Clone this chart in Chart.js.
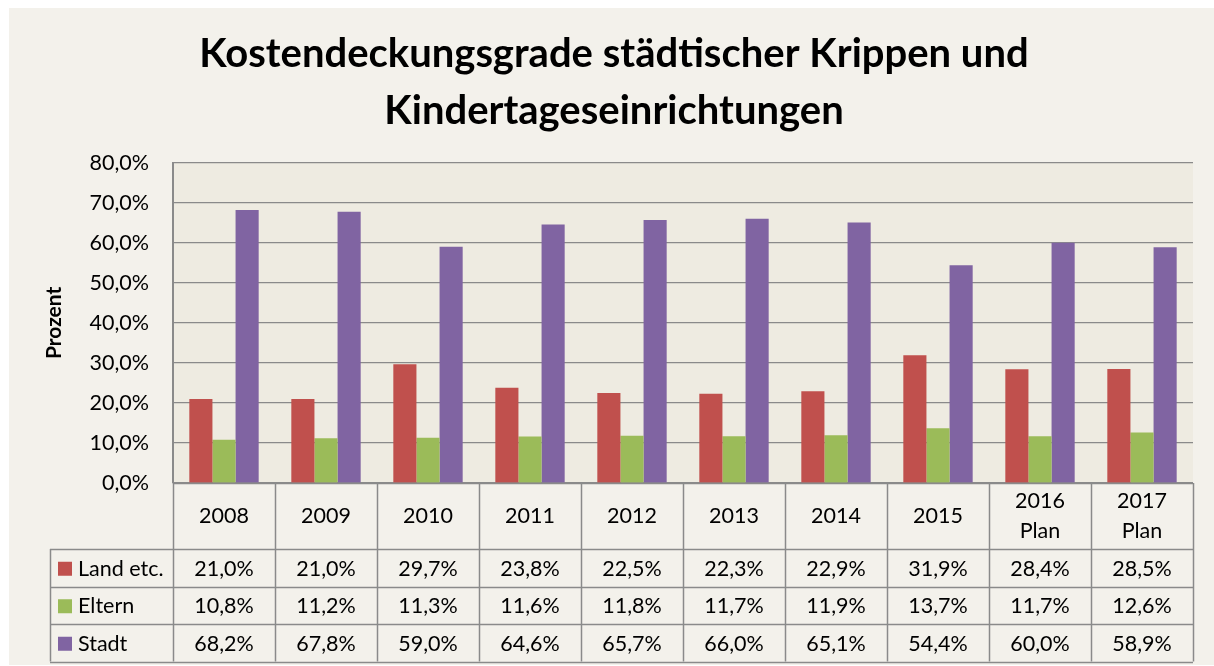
<!DOCTYPE html>
<html>
<head>
<meta charset="utf-8">
<script src="https://cdn.jsdelivr.net/npm/chart.js@4"></script>
<style>
  html, body { margin: 0; padding: 0; background: #ffffff; }
  canvas { display: block; }
</style>
</head>
<body>
<canvas id="chart" width="1214" height="666"></canvas>
<script>
const categories = [['2008'], ['2009'], ['2010'], ['2011'], ['2012'], ['2013'], ['2014'], ['2015'], ['2016', 'Plan'], ['2017', 'Plan']];
const seriesNames = ['Land etc.', 'Eltern', 'Stadt'];
const land = [21.0, 21.0, 29.7, 23.8, 22.5, 22.3, 22.9, 31.9, 28.4, 28.5];
const eltern = [10.8, 11.2, 11.3, 11.6, 11.8, 11.7, 11.9, 13.7, 11.7, 12.6];
const stadt = [68.2, 67.8, 59.0, 64.6, 65.7, 66.0, 65.1, 54.4, 60.0, 58.9];
const yTicks = [0, 10, 20, 30, 40, 50, 60, 70, 80];

const colors = ['#c0504d', '#9bbb59', '#8064a2'];
const FONT = 'Lato, "Open Sans", sans-serif';
const LINE = '#8a8a8a';
const TEXT_SIZE = 21.5;

function pct(v) {
    return v.toFixed(1).replace('.', ',') + '%';
}

// outer background + plot background
const backgroundPlugin = {
    id: 'background',
    beforeDraw(chart) {
        const ctx = chart.ctx;
        const a = chart.chartArea;
        ctx.save();
        ctx.fillStyle = '#ffffff';
        ctx.fillRect(0, 0, chart.width, chart.height);
        ctx.fillStyle = '#f3f1eb';
        ctx.fillRect(9, 8, chart.width - 9, chart.height - 9);
        ctx.fillStyle = '#eeebe1';
        ctx.fillRect(a.left, a.top, a.right - a.left, a.bottom - a.top);
        ctx.restore();
    }
};

// data table under the plot, columns taken from the x scale
const tablePlugin = {
    id: 'dataTable',
    afterDraw(chart) {
        const ctx = chart.ctx;
        const x = chart.scales.x;
        const n = categories.length;
        const colW = (x.right - x.left) / n;
        const top = chart.chartArea.bottom;
        const headerBottom = top + 66;
        const rowH = 37.5;
        const bottom = headerBottom + rowH * 3;
        const legendLeft = 50;

        ctx.save();
        ctx.strokeStyle = LINE;
        ctx.lineWidth = 1.5;

        // vertical lines
        for (let i = 0; i <= n; i++) {
            const px = Math.round(x.left + colW * i) + 0.5;
            ctx.beginPath();
            ctx.moveTo(px, top);
            ctx.lineTo(px, bottom);
            ctx.stroke();
        }
        ctx.beginPath();
        ctx.moveTo(legendLeft + 0.5, headerBottom);
        ctx.lineTo(legendLeft + 0.5, bottom);
        ctx.stroke();

        // horizontal lines
        for (let r = 0; r <= 3; r++) {
            const py = Math.round(headerBottom + rowH * r) + 0.5;
            ctx.beginPath();
            ctx.moveTo(legendLeft, py);
            ctx.lineTo(x.right, py);
            ctx.stroke();
        }
        ctx.beginPath();
        ctx.moveTo(x.left, top + 0.5);
        ctx.lineTo(x.right, top + 0.5);
        ctx.stroke();

        ctx.fillStyle = '#000000';
        ctx.font = TEXT_SIZE + 'px ' + FONT;
        ctx.textAlign = 'center';
        ctx.textBaseline = 'middle';

        // header labels
        categories.forEach((lines, i) => {
            const cx = x.getPixelForValue(i);
            const mid = (top + headerBottom) / 2;
            const lh = 30;
            lines.forEach((t, j) => {
                ctx.fillText(t, cx, mid + (j - (lines.length - 1) / 2) * lh);
            });
        });

        // rows
        chart.data.datasets.forEach((ds, r) => {
            const cy = headerBottom + rowH * r + rowH / 2 + 1;
            ctx.fillStyle = ds.backgroundColor;
            ctx.fillRect(legendLeft + 8, cy - 7, 14, 14);
            ctx.fillStyle = '#000000';
            ctx.textAlign = 'left';
            ctx.fillText(ds.label, legendLeft + 28, cy);
            ctx.textAlign = 'center';
            ds.data.forEach((v, i) => {
                ctx.fillText(pct(v), x.getPixelForValue(i), cy);
            });
        });
        ctx.restore();
    }
};

new Chart(document.getElementById('chart'), {
    type: 'bar',
    data: {
        labels: categories,
        datasets: [
            { label: seriesNames[0], data: land, backgroundColor: colors[0] },
            { label: seriesNames[1], data: eltern, backgroundColor: colors[1] },
            { label: seriesNames[2], data: stadt, backgroundColor: colors[2] }
        ]
    },
    options: {
        responsive: false,
        animation: false,
        devicePixelRatio: 1,
        layout: {
            padding: { top: 0, left: 35, right: 21, bottom: 183 }
        },
        datasets: {
            bar: {
                categoryPercentage: 0.68,
                barPercentage: 1.0
            }
        },
        plugins: {
            legend: { display: false },
            tooltip: { enabled: false },
            title: {
                display: true,
                text: ['Kostendeckungsgrade städtischer Krippen und', 'Kindertageseinrichtungen'],
                color: '#000000',
                font: { family: FONT, size: 40, weight: 'bold', lineHeight: 1.41 },
                padding: { top: 26, bottom: 24 }
            }
        },
        scales: {
            x: {
                grid: { display: false, drawTicks: false },
                border: { display: false },
                ticks: { display: false },
                afterFit(scale) { scale.height = 0; }
            },
            y: {
                min: 0,
                max: 80,
                afterBuildTicks(scale) {
                    scale.ticks = yTicks.map(v => ({ value: v }));
                },
                afterFit(scale) { scale.width = 138; },
                grid: { color: LINE, lineWidth: 1.2, drawTicks: false },
                border: { display: true, color: LINE, width: 2 },
                ticks: {
                    color: '#000000',
                    padding: 24,
                    font: { family: FONT, size: TEXT_SIZE },
                    callback: v => pct(v)
                },
                title: {
                    display: true,
                    text: 'Prozent',
                    color: '#000000',
                    font: { family: FONT, size: 21, weight: 'bold' },
                    padding: { top: 7, bottom: 0 }
                }
            }
        }
    },
    plugins: [backgroundPlugin, tablePlugin]
});
</script>
</body>
</html>
